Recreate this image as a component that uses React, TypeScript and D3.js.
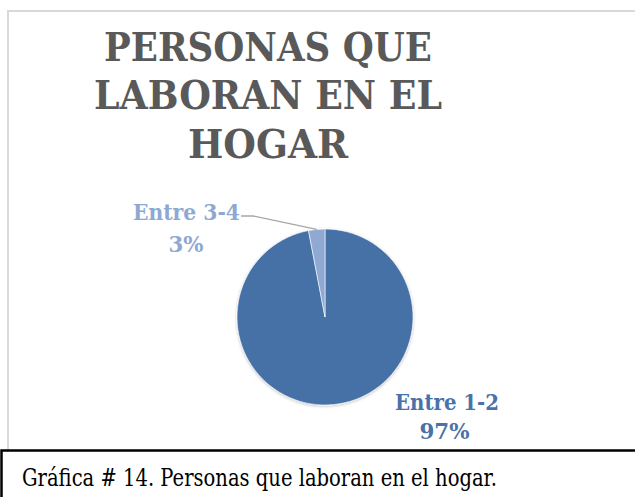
import React from "react";
import * as d3 from "d3";

const categories = ["Entre 1-2", "Entre 3-4"];
const values = [97, 3];
const percentLabels = ["97%", "3%"];
const titleLines = ["PERSONAS QUE", "LABORAN EN EL", "HOGAR"];
const caption = "Gráfica # 14. Personas que laboran en el hogar.";

const W = 635;
const H = 497;
const colors = ["#4571A7", "#8FA9D3"];
const labelColors = ["#4A72A8", "#8EA9D1"];

const serif = "'DejaVu Serif', 'Liberation Serif', serif";

function FitText(props: {
  x: number;
  y: number;
  size: number;
  color: string;
  len: number;
  bold?: boolean;
  anchor?: string;
  children: React.ReactNode;
}) {
  return (
    <text
      x={props.x}
      y={props.y}
      textAnchor={props.anchor || "middle"}
      fontFamily={serif}
      fontSize={props.size}
      fontWeight={props.bold ? 700 : 400}
      fill={props.color}
      textLength={props.len}
      lengthAdjust="spacingAndGlyphs"
    >
      {props.children}
    </text>
  );
}

export default function App() {
  const cx = 325;
  const cy = 317;
  const r = 88;
  const pie = d3.pie<number>().sort(null).startAngle(0).endAngle(2 * Math.PI);
  const arcs = pie(values);
  const arcGen = d3.arc<d3.PieArcDatum<number>>().innerRadius(0).outerRadius(r);

  const small = arcs[1];
  const midA = (small.startAngle + small.endAngle) / 2;
  const edge: [number, number] = [cx + r * Math.sin(midA), cy - r * Math.cos(midA)];

  const titleLens = [328, 348, 160];

  return (
    <svg width={W} height={H} style={{ position: "absolute", left: 0, top: 0 }}>
      <defs>
        <filter id="sh" x="-20%" y="-20%" width="140%" height="140%">
          <feDropShadow dx="0" dy="1" stdDeviation="1.5" floodColor="#000" floodOpacity="0.25" />
        </filter>
      </defs>
      <rect x={0} y={0} width={W} height={H} fill="#fff" />
      <rect x={8} y={11} width={W + 20} height={460} fill="#fff" stroke="#d9d9d9" strokeWidth={2} />
      {titleLines.map((t, i) => (
        <FitText key={i} x={268} y={60.5 + i * 48.5} size={40} color="#595959" len={titleLens[i]} bold>
          {t}
        </FitText>
      ))}
      <g transform={`translate(${cx},${cy})`} filter="url(#sh)">
        {arcs.map((a, i) => (
          <path key={i} d={arcGen(a) || ""} fill={colors[i]} stroke="#fff" strokeWidth={0.6} />
        ))}
      </g>
      <polyline
        points={`241,216 253,216 ${edge[0]},${edge[1]}`}
        fill="none"
        stroke="#a6a6a6"
        strokeWidth={1.3}
      />
      <FitText x={186.5} y={219.5} size={23} color={labelColors[1]} len={107} bold>{categories[1]}</FitText>
      <FitText x={186} y={252} size={23} color={labelColors[1]} len={35} bold>{percentLabels[1]}</FitText>
      <FitText x={447} y={409.5} size={23} color={labelColors[0]} len={104} bold>{categories[0]}</FitText>
      <FitText x={444.5} y={438.5} size={23} color={labelColors[0]} len={50} bold>{percentLabels[0]}</FitText>
      <rect x={1.5} y={450.5} width={W + 20} height={80} fill="#fff" stroke="#000" strokeWidth={2.5} />
      <FitText x={22} y={486} size={24} color="#000" len={475} anchor="start">{caption}</FitText>
    </svg>
  );
}
